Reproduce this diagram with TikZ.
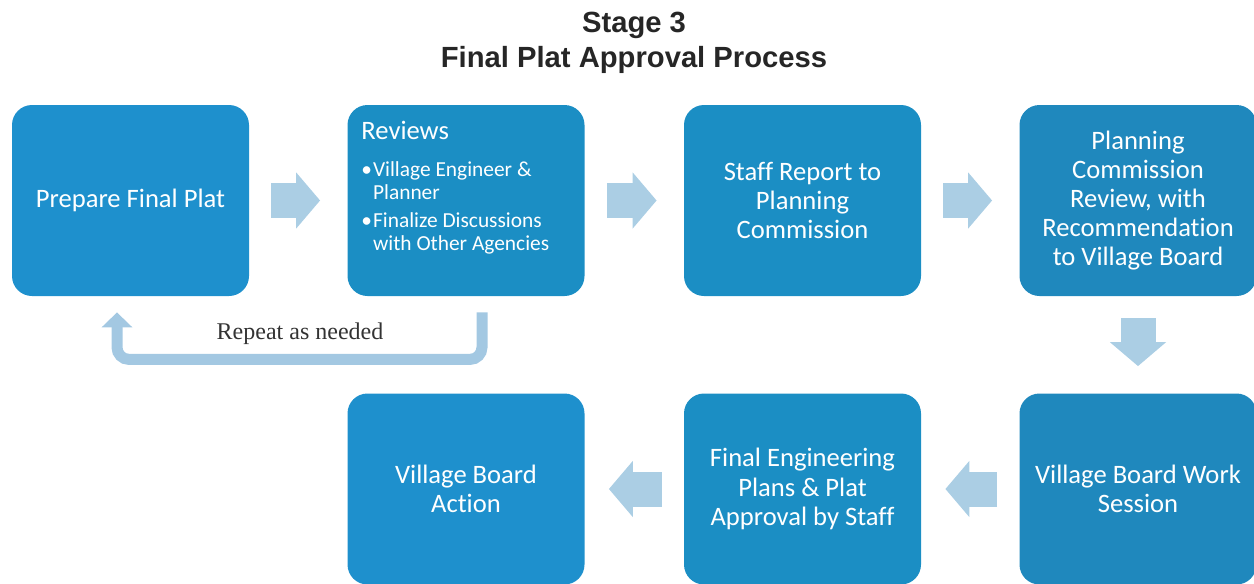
\documentclass[tikz,border=0pt]{standalone}
\usepackage{fontspec}
\setmainfont{Liberation Serif}
\newfontfamily\calibrifont[Ligatures={NoCommon}]{Carlito}
\newfontfamily\arialfont{Liberation Sans}
\usetikzlibrary{arrows.meta}
\definecolor{boxA}{HTML}{1E90CD}
\definecolor{boxB}{HTML}{1B8EC4}
\definecolor{boxC}{HTML}{1F88BD}
\definecolor{flow}{HTML}{ABCEE4}
\definecolor{loop}{HTML}{A3C8E2}
\begin{document}
\begin{tikzpicture}[x=0.5pt,y=-0.5pt,
  stepbox/.style={rounded corners=10pt, minimum width=118.5pt, minimum height=95.5pt,
    inner sep=0pt, text=white, align=center,
    font=\calibrifont\fontsize{13.3pt}{14.6pt}\selectfont},
  flowarrow/.style={draw=flow, line width=17.5pt,
    -{Triangle[width=27.5pt,length=12pt]}, shorten <=11pt, shorten >=13.5pt},
  loopline/.style={draw=loop, line width=5.5pt, rounded corners=6pt,
    -{Triangle[width=15pt,length=7.5pt]}}
]
\useasboundingbox (0,0) rectangle (1254,584);
\clip (0,0) rectangle (1254,584);

% title
\node[anchor=north, inner sep=0pt, align=center, text=black!85,
  font=\arialfont\bfseries\fontsize{14.6pt}{17.5pt}\selectfont] (title) at (634,12)
  {Stage 3\\Final Plat Approval Process};

% process steps
\node[stepbox, fill=boxA] (b1) at (130.5,200.5) {Prepare Final Plat};
\node[stepbox, fill=boxB] (b2) at (466,200.5) {};
\node[stepbox, fill=boxB] (b3) at (802.5,200.5) {Staff Report to\\Planning\\Commission};
\node[stepbox, fill=boxC] (b4) at (1138,200.5) {Planning\\Commission\\Review, with\\Recommendation\\to Village Board};
\node[stepbox, fill=boxC] (b5) at (1138,489) {Village Board Work\\Session};
\node[stepbox, fill=boxB] (b6) at (802.5,489) {Final Engineering\\Plans \& Plat\\Approval by Staff};
\node[stepbox, fill=boxA] (b7) at (466,489) {Village Board\\Action};

% reviews list
\node[anchor=base west, inner sep=0pt, text=white,
  font=\calibrifont\fontsize{10.7pt}{11.5pt}\selectfont] (b2text) at (361,139)
  {\begin{tabular}[t]{@{}l@{\hspace{0.5pt}}l@{}}
   \multicolumn{2}{@{}l@{}}{\fontsize{13.3pt}{14.6pt}\selectfont Reviews}\\[7pt]
   •&Village Engineer \&\\
    &Planner\\[2.5pt]
   •&Finalize Discussions\\
    &with Other Agencies
   \end{tabular}};

% flow arrows
\draw[flowarrow] (b1) -- (b2);
\draw[flowarrow] (b2) -- (b3);
\draw[flowarrow] (b3) -- (b4);
\draw[flowarrow] (b4) -- (b5);
\draw[flowarrow, shorten >=12pt] (b5) -- (b6);
\draw[flowarrow, shorten >=12pt] (b6) -- (b7);

% repeat loop
\coordinate (loopstart) at ([xshift=8pt,yshift=-8pt]b2.south);
\coordinate (loopend) at ([xshift=-6.75pt,yshift=-8pt]b1.south);
\draw[loopline] (loopstart) -- ++(0,47) -| (loopend);
\node[anchor=base, inner sep=0pt, text=black!80,
  font=\fontsize{12pt}{14pt}\selectfont] (rep) at (300,339) {Repeat as needed};
\end{tikzpicture}
\end{document}
